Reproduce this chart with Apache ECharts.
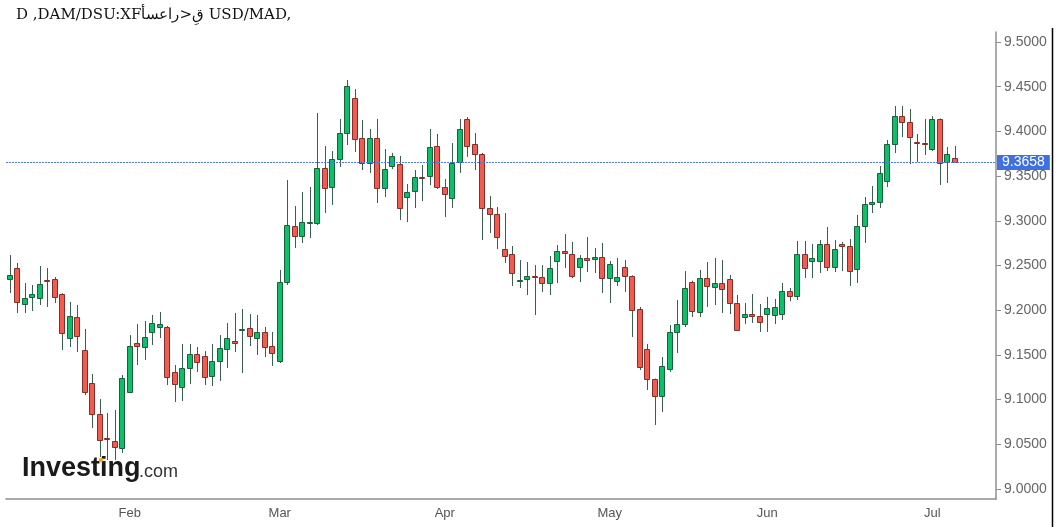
<!DOCTYPE html>
<html><head><meta charset="utf-8">
<script src="https://cdn.jsdelivr.net/npm/echarts@6/dist/echarts.min.js"></script>
<style>html,body{margin:0;padding:0;background:#fff}#c{width:1060px;height:527px}</style>
</head><body><div id="c"></div>
<script>
// trading-day range (weekdays only)
const startDate = '2026-01-09';
const endDate = '2026-07-06';
const monthNames = ['Jan','Feb','Mar','Apr','May','Jun','Jul','Aug','Sep','Oct','Nov','Dec'];
const yTicks = [9.0, 9.05, 9.1, 9.15, 9.2, 9.25, 9.3, 9.35, 9.4, 9.45, 9.5];
const emptySlots = 5;

const openP = [
9.2349,9.2472,9.2069,9.2148,9.2136,9.2338,9.2349,9.2181,9.1689,9.1924,
9.1555,9.1186,9.0839,9.0565,9.0537,9.0458,9.1085,9.1633,9.1588,9.1756,
9.1812,9.1812,9.1309,9.1141,9.1353,9.1510,9.1488,9.1264,9.1432,9.1566,
9.1655,9.1785,9.1801,9.1689,9.1756,9.1599,9.1432,9.2315,9.2942,9.2830,
9.2983,9.2975,9.3591,9.3378,9.3691,9.3982,9.4374,9.3926,9.3646,9.3926,
9.3367,9.3613,9.3635,9.3266,9.3333,9.3490,9.3501,9.3837,9.3378,9.3255,
9.3658,9.4139,9.3859,9.3747,9.3143,9.3076,9.2684,9.2629,9.2335,9.2349,
9.2382,9.2371,9.2304,9.2550,9.2662,9.2629,9.2483,9.2584,9.2573,9.2595,
9.2360,9.2327,9.2483,9.2382,9.2013,9.1566,9.1230,9.1040,9.1342,9.1756,
9.1845,9.2315,9.1980,9.2360,9.2259,9.2304,9.2349,9.2080,9.1924,9.1957,
9.1935,9.1957,9.1946,9.1957,9.2215,9.2159,9.2629,9.2550,9.2550,9.2740,
9.2483,9.2740,9.2718,9.2461,9.2942,9.3188,9.3210,9.3445,9.3859,9.4172,
9.4105,9.3882,9.3870,9.3803,9.4139,9.3658,9.3702];
const closeP = [
9.2394,9.2092,9.2136,9.2181,9.2293,9.2327,9.2148,9.1745,9.1935,9.1711,
9.1085,9.0839,9.0548,9.0559,9.0470,9.1242,9.1599,9.1599,9.1700,9.1857,
9.1845,9.1253,9.1174,9.1353,9.1510,9.1420,9.1253,9.1432,9.1577,9.1689,
9.1633,9.1795,9.1711,9.1756,9.1588,9.1521,9.2315,9.2953,9.2830,9.2986,
9.2989,9.3591,9.3367,9.3691,9.3982,9.4508,9.3915,9.3646,9.3926,9.3367,
9.3579,9.3725,9.3143,9.3322,9.3490,9.3479,9.3825,9.3378,9.3300,9.3646,
9.4027,9.3837,9.3747,9.3143,9.3076,9.2819,9.2606,9.2416,9.2340,9.2382,
9.2371,9.2304,9.2472,9.2662,9.2640,9.2382,9.2584,9.2561,9.2595,9.2360,
9.2517,9.2371,9.2382,9.2002,9.1364,9.1230,9.1040,9.1376,9.1756,9.1845,
9.2248,9.1991,9.2360,9.2271,9.2304,9.2237,9.2080,9.1779,9.1957,9.1935,
9.1868,9.2025,9.2036,9.2215,9.2159,9.2629,9.2472,9.2584,9.2740,9.2483,
9.2684,9.2718,9.2438,9.2942,9.3188,9.3210,9.3535,9.3859,9.4172,9.4105,
9.3937,9.3870,9.3859,9.4139,9.3650,9.3747,9.3658];
const lowP = [
9.2192,9.1969,9.1969,9.1991,9.2058,9.2036,9.2080,9.1555,9.1588,9.1532,
9.1051,9.0682,9.0358,9.0324,9.0324,9.0403,9.1074,9.1387,9.1443,9.1611,
9.1689,9.1163,9.0973,9.0984,9.1174,9.1309,9.1163,9.1152,9.1208,9.1353,
9.1532,9.1297,9.1599,9.1499,9.1476,9.1376,9.1409,9.2282,9.2696,9.2752,
9.2808,9.2953,9.3087,9.3177,9.3602,9.3848,9.3770,9.3568,9.3535,9.3199,
9.3266,9.3579,9.3009,9.2986,9.3143,9.3221,9.3400,9.3356,9.3042,9.3143,
9.3535,9.3714,9.3568,9.2785,9.2863,9.2684,9.2528,9.2271,9.2248,9.2170,
9.1946,9.2204,9.2170,9.2304,9.2472,9.2360,9.2315,9.2427,9.2416,9.2192,
9.2080,9.2271,9.2204,9.1700,9.1331,9.1107,9.0716,9.0861,9.1309,9.1521,
9.1812,9.1924,9.1924,9.2036,9.2058,9.1969,9.1957,9.1767,9.1845,9.1857,
9.1756,9.1756,9.1845,9.1890,9.2100,9.2114,9.2360,9.2360,9.2416,9.2438,
9.2427,9.2438,9.2271,9.2304,9.2752,9.3087,9.3143,9.3378,9.3758,9.3937,
9.3635,9.3658,9.3736,9.3781,9.3400,9.3423,9.3650];
const highP = [
9.2617,9.2528,9.2304,9.2282,9.2494,9.2472,9.2371,9.2190,9.2092,9.2058,
9.1790,9.1286,9.1006,9.0850,9.0883,9.1275,9.1722,9.1845,9.1879,9.1946,
9.1980,9.1823,9.1387,9.1622,9.1622,9.1588,9.1543,9.1622,9.1722,9.1857,
9.1969,9.2013,9.1957,9.1946,9.1812,9.1756,9.2450,9.3456,9.3165,9.3322,
9.3378,9.4206,9.3837,9.3781,9.4139,9.4575,9.4474,9.4128,9.4027,9.4139,
9.3803,9.3759,9.3725,9.3412,9.3568,9.3624,9.4027,9.3971,9.3468,9.3870,
9.4139,9.4161,9.3982,9.3760,9.3277,9.3154,9.3087,9.2718,9.2561,9.2539,
9.2505,9.2505,9.2606,9.2729,9.2852,9.2763,9.2617,9.2819,9.2696,9.2752,
9.2550,9.2584,9.2561,9.2390,9.2036,9.1622,9.1235,9.1476,9.1834,9.2114,
9.2438,9.2330,9.2450,9.2539,9.2584,9.2561,9.2394,9.2170,9.2080,9.2181,
9.2069,9.2148,9.2125,9.2304,9.2248,9.2774,9.2774,9.2740,9.2785,9.2931,
9.2785,9.2763,9.2796,9.3065,9.3266,9.3389,9.3613,9.3904,9.4284,9.4284,
9.4250,9.3971,9.4139,9.4172,9.4145,9.3826,9.3837];

// categories: weekdays between start and end
const dates = [];
for (let d = new Date(startDate + 'T00:00:00Z'); d <= new Date(endDate + 'T00:00:00Z'); d.setUTCDate(d.getUTCDate() + 1)) {
  const w = d.getUTCDay();
  if (w !== 0 && w !== 6) dates.push(d.toISOString().slice(0, 10));
}
const categories = dates.concat(new Array(emptySlots).fill(''));
const isMonthStart = categories.map((d, i) => i > 0 && d !== '' && d.slice(5, 7) !== categories[i - 1].slice(5, 7));
const candleData = dates.map((d, i) => [i, openP[i], closeP[i], lowP[i], highP[i]]);
const lastClose = closeP[closeP.length - 1];

const greenFill = '#0cbf69', greenBorder = '#1b5e3b';
const redFill = '#f55a4f', redBorder = '#80302a';
const wickColor = '#3c5e4e';

const chart = echarts.init(document.getElementById('c'), null, {renderer: 'canvas'});
chart.setOption({
  animation: false,
  backgroundColor: '#fff',
  title: {
    text: 'D ,DAM/DSU:XF' + 'قِ<راعسأ' + ' USD/MAD,',
    left: 11, top: 3,
    textStyle: {fontFamily: 'DejaVu Serif', fontSize: 15, fontWeight: 'normal', color: '#111'}
  },
  grid: {left: 6, right: 64, top: 32, bottom: 28, containLabel: false},
  xAxis: {
    type: 'category', data: categories, boundaryGap: true,
    axisLine: {lineStyle: {color: '#8f8f8f', width: 1.5}},
    axisTick: {alignWithLabel: true, interval: (i) => isMonthStart[i], length: 5, lineStyle: {color: '#8f8f8f'}},
    axisLabel: {
      interval: (i) => isMonthStart[i],
      formatter: (v) => v ? monthNames[parseInt(v.slice(5, 7), 10) - 1] : '',
      color: '#555', fontSize: 13, margin: 8,
      fontFamily: '"Liberation Sans Narrow", "Arial Narrow", sans-serif'
    },
    splitLine: {show: false}
  },
  yAxis: {
    type: 'value', position: 'right', scale: true,
    min: 8.9888, max: 9.5112,
    axisLine: {show: true, lineStyle: {color: '#8f8f8f', width: 1.5}},
    axisTick: {show: true, customValues: yTicks, length: 5, lineStyle: {color: '#8f8f8f'}},
    axisLabel: {customValues: yTicks, formatter: (v) => v.toFixed(4), color: '#666', fontSize: 14, margin: 8,
      fontFamily: '"Liberation Sans", Arial, sans-serif'},
    splitLine: {show: false}
  },
  series: [{
    type: 'custom',
    data: candleData,
    encode: {x: 0, y: [1, 2, 3, 4]},
    clip: false,
    renderItem: function (params, api) {
      const i = api.value(0);
      const o = api.value(1), c = api.value(2), l = api.value(3), h = api.value(4);
      const po = api.coord([i, o]), pc = api.coord([i, c]), pl = api.coord([i, l]), ph = api.coord([i, h]);
      const bw = Math.round(api.size([1, 0])[0] * 0.8);
      const up = c >= o;
      const xc = Math.round(po[0]);
      const top = Math.min(po[1], pc[1]), bot = Math.max(po[1], pc[1]);
      const bh = Math.max(Math.round(bot - top), 1);
      return {
        type: 'group',
        children: [
          {type: 'line', shape: {x1: xc + 0.5, y1: ph[1], x2: xc + 0.5, y2: pl[1]},
           style: {stroke: wickColor, lineWidth: 1}},
          {type: 'rect', shape: {x: xc - Math.floor(bw / 2) + 0.5, y: Math.round(top) + 0.5, width: bw - 1, height: bh},
           style: {fill: up ? greenFill : redFill, stroke: up ? greenBorder : redBorder, lineWidth: 1}}
        ]
      };
    }
  }, {
    type: 'custom',
    data: [[0, lastClose]],
    encode: {x: 0, y: 1},
    clip: false,
    z: 3,
    renderItem: function (params, api) {
      const cs = params.coordSys;
      const v = api.value(1);
      const y = Math.round(api.coord([0, v])[1]) + 0.5;
      return {
        type: 'group',
        children: [
          {type: 'line', shape: {x1: cs.x, y1: y, x2: cs.x + cs.width, y2: y},
           style: {stroke: '#4f78e3', lineWidth: 1, lineDash: [2, 1]}},
          {type: 'text', x: cs.x + cs.width + 1, y: y,
           style: {text: v.toFixed(4), fill: '#fff', backgroundColor: '#3e70df',
                   padding: [1, 5, 0, 5], font: '14px "Liberation Sans", Arial, sans-serif',
                   align: 'left', verticalAlign: 'middle'}}
        ]
      };
    }
  }],
  graphic: [
    {type: 'line', shape: {x1: 1052.5, y1: 28, x2: 1052.5, y2: 527}, style: {stroke: '#000', lineWidth: 1.5}, silent: true},
    {type: 'text', left: 22, top: 455, style: {text: 'Investing', font: 'bold 27px "Liberation Sans Narrow", "Arial Narrow", sans-serif', fill: '#1a1a1a'}, silent: true},
    {type: 'text', left: 139, top: 463, style: {text: '.com', font: '18px "Liberation Sans Narrow", "Arial Narrow", sans-serif', fill: '#333'}, silent: true},
    {type: 'circle', shape: {cx: 101, cy: 460, r: 2.2}, style: {fill: '#f5a623'}, silent: true}
  ]
});
</script></body></html>
